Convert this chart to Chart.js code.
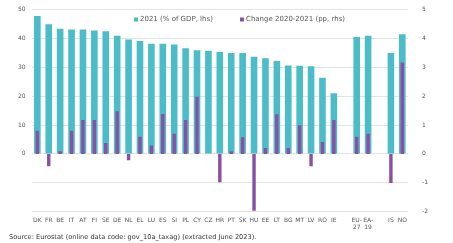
<!DOCTYPE html>
<html>
<head>
<meta charset="utf-8">
<script src="https://cdn.jsdelivr.net/npm/chart.js@4.4.0/dist/chart.umd.min.js"></script>
<style>
  body { margin: 0; background: #fff; }
  #wrap { position: relative; width: 453px; height: 243px; }
  #source { position: absolute; left: 9px; top: 233px; font: 6.6px "DejaVu Sans", sans-serif; color: #333; white-space: nowrap; }
</style>
</head>
<body>
<div id="wrap">
  <canvas id="chart" width="453" height="243"></canvas>
  <div id="source">Source: Eurostat (online data code: gov_10a_taxag) (extracted June 2023).</div>
</div>
<script>
// categories, empty strings are the gaps between groups
const categories = ['DK', 'FR', 'BE', 'IT', 'AT', 'FI', 'SE', 'DE', 'NL', 'EL', 'LU', 'ES', 'SI', 'PL', 'CY', 'CZ', 'HR',
    'PT', 'SK', 'HU', 'EE', 'LT', 'BG', 'MT', 'LV', 'RO', 'IE', '', ['EU-', '27'], ['EA-', '19'], '', 'IS', 'NO'];
// 2021, % of GDP (left axis)
const share2021 = [47.8, 44.9, 43.4, 43.1, 43.1, 42.8, 42.5, 40.9, 39.6, 39.1, 38.2, 38.2, 37.9, 36.6, 35.9, 35.7, 35.3,
    35.0, 35.0, 33.7, 33.1, 32.2, 30.6, 30.5, 30.4, 26.4, 21.0, null, 40.5, 40.9, null, 35.0, 41.5];
// change 2020-2021, pp (right axis)
const change20to21 = [0.8, -0.43, 0.09, 0.8, 1.17, 1.17, 0.38, 1.48, -0.22, 0.59, 0.29, 1.38, 0.7, 1.17, 1.98, 0, -0.98,
    0.09, 0.58, -1.97, 0.2, 1.37, 0.2, 0.99, -0.43, 0.41, 1.17, null, 0.59, 0.7, null, -1.01, 3.17];

const teal = '#4bbdc8';
const purple = '#8a50a6';
const txt = '#555';
const fontFam = '"DejaVu Sans", sans-serif';

// legend drawn inside the plot area, one row
const innerLegend = {
    id: 'innerLegend',
    afterDraw(chart) {
        const ctx = chart.ctx;
        const xs = [134, 240];
        const y = 19.5;
        ctx.save();
        ctx.font = '7px ' + fontFam;
        ctx.textBaseline = 'middle';
        chart.data.datasets.forEach((ds, i) => {
            ctx.fillStyle = ds.backgroundColor;
            ctx.fillRect(xs[i], y - 2, 4, 4);
            ctx.fillStyle = txt;
            ctx.fillText(ds.label, xs[i] + 6, y);
        });
        ctx.restore();
    }
};

new Chart(document.getElementById('chart'), {
    type: 'bar',
    data: {
        labels: categories,
        datasets: [{
            label: '2021 (% of GDP, lhs)',
            data: share2021,
            backgroundColor: teal,
            yAxisID: 'y',
            grouped: false,
            categoryPercentage: 1,
            barPercentage: 0.58,
            order: 1
        }, {
            label: 'Change 2020-2021 (pp, rhs)',
            data: change20to21,
            backgroundColor: purple,
            yAxisID: 'y2',
            grouped: false,
            categoryPercentage: 1,
            barPercentage: 0.3,
            order: 0
        }]
    },
    options: {
        responsive: false,
        animation: false,
        layout: { padding: { left: 12, right: 19, top: 6, bottom: 7 } },
        plugins: {
            tooltip: { enabled: false },
            legend: { display: false }
        },
        scales: {
            x: {
                grid: { display: false, drawTicks: false },
                border: { display: false },
                ticks: { color: txt, font: { family: fontFam, size: 6 }, maxRotation: 0, autoSkip: false, padding: 5 }
            },
            y: {
                position: 'left',
                min: -20, max: 50,
                grid: { color: '#e3e3e3', drawTicks: false },
                border: { display: false },
                ticks: {
                    stepSize: 10, color: txt, padding: 6,
                    font: { family: fontFam, size: 6 },
                    callback: v => v < 0 ? '' : v
                }
            },
            y2: {
                position: 'right',
                min: -2, max: 5,
                grid: { display: false },
                border: { display: false },
                ticks: { stepSize: 1, color: txt, padding: 6, font: { family: fontFam, size: 6 } }
            }
        }
    },
    plugins: [innerLegend]
});
</script>
</body>
</html>
